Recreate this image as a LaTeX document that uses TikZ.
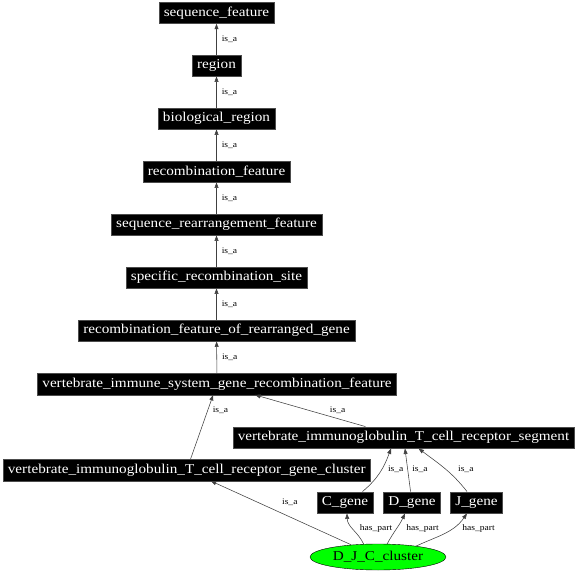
\documentclass[tikz,border=0pt]{standalone}
\usepackage{fontspec}
\setmainfont{Liberation Serif}
\newfontfamily\nf[FakeStretch=1.125]{Liberation Serif}
\usetikzlibrary{arrows.meta,shapes.geometric}
\begin{document}
\begin{tikzpicture}[x=1pt,y=-1pt,
  term/.style={fill=black,draw=black!70,text=white,font=\nf\fontsize{13.5}{14}\selectfont,
    inner xsep=5pt,inner ysep=0pt,minimum height=21.5pt,anchor=center},
  edge/.style={draw=black!75,line width=0.55pt,-{Triangle[length=5.5pt,width=4pt]}},
  lab/.style={font=\nf\fontsize{8.5}{9}\selectfont,inner sep=0pt,text=black}]
\useasboundingbox (0,0) rectangle (576,572);
\node[term] (seqf) at (216.5,12.8) {sequence\_feature};
\node[term] (region) at (216.5,65.5) {region};
\node[term] (biol) at (216.5,118.5) {biological\_region};
\node[term] (recf) at (216.5,171.5) {recombination\_feature};
\node[term] (srf) at (216.5,224.5) {sequence\_rearrangement\_feature};
\node[term] (srs) at (216.5,277.5) {specific\_recombination\_site};
\node[term] (rfrg) at (216.5,330.5) {recombination\_feature\_of\_rearranged\_gene};
\node[term] (visg) at (217,384) {vertebrate\_immune\_system\_gene\_recombination\_feature};
\node[term] (seg) at (403.5,437.5) {vertebrate\_immunoglobulin\_T\_cell\_receptor\_segment};
\node[term] (clu) at (186.7,470) {vertebrate\_immunoglobulin\_T\_cell\_receptor\_gene\_cluster};
\node[term] (cg) at (345,502.5) {C\_gene};
\node[term] (dg) at (412,502.5) {D\_gene};
\node[term] (jg) at (476.5,502.5) {J\_gene};
\node[ellipse,draw=black,fill=green,minimum width=136pt,minimum height=26pt,inner sep=0pt,
  font=\nf\fontsize{13.5}{14}\selectfont] (djc) at (378,557) {D\_J\_C\_cluster};
% chain
\draw[edge] (region) -- node[lab,right=5pt] {is\_a} (seqf);
\draw[edge] (biol) -- node[lab,right=5pt] {is\_a} (region);
\draw[edge] (recf) -- node[lab,right=5pt] {is\_a} (biol);
\draw[edge] (srf) -- node[lab,right=5pt] {is\_a} (recf);
\draw[edge] (srs) -- node[lab,right=5pt] {is\_a} (srf);
\draw[edge] (rfrg) -- node[lab,right=5pt] {is\_a} (srs);
\draw[edge] (visg) -- node[lab,right=5pt] {is\_a} (rfrg);
% lower part
\draw[edge] (clu) -- (visg);
\node[lab] (l1) at (220.5,410.7) {is\_a};
\draw[edge] (seg) -- (visg);
\node[lab] (l2) at (337.6,410.7) {is\_a};
\draw[edge] ([xshift=17.5pt]cg.north) to[out=40,in=250] ([xshift=-12.5pt]seg.south);
\node[lab] (l3) at (395.7,469) {is\_a};
\draw[edge] (dg) -- (seg);
\node[lab] (l4) at (420,469) {is\_a};
\draw[edge] ([xshift=-9.5pt]jg.north) to[out=128,in=-37] ([xshift=15pt]seg.south);
\node[lab] (l5) at (465.8,469) {is\_a};
\draw[edge] (djc) -- (clu);
\node[lab] (l6) at (289.8,502.7) {is\_a};
\draw[edge] (djc.138) to[out=115,in=-88] ([xshift=2pt]cg.south);
\node[lab] (l7) at (376,528) {has\_part};
\draw[edge] (djc.55) to[out=62,in=-115] ([xshift=-7pt]dg.south);
\node[lab] (l8) at (422.6,528) {has\_part};
\draw[edge] (djc.16) to[out=25,in=-125] ([xshift=-9.5pt]jg.south);
\node[lab] (l9) at (478.5,528) {has\_part};
\end{tikzpicture}
\end{document}
